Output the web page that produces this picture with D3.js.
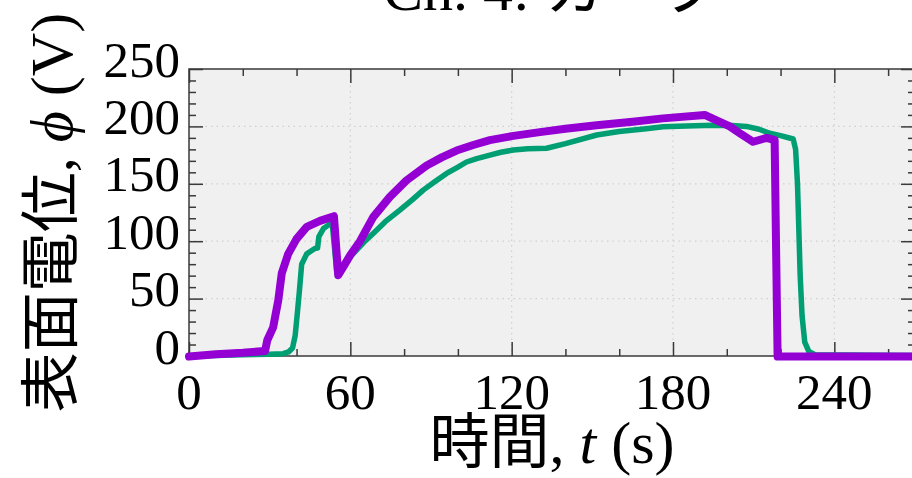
<!DOCTYPE html>
<html>
<head>
<meta charset="utf-8">
<script src="https://cdn.jsdelivr.net/npm/d3@7"></script>
<style>
  html, body { margin: 0; padding: 0; background: #fff; }
  svg { display: block; }
</style>
</head>
<body>
<svg id="chart" width="912" height="478"></svg>
<script>
// Ch. 4 surface potential traces
const titleText = 'Ch. 4: ';
const titleKana = 'カーブ';

const xMajorTicks = [0, 60, 120, 180, 240];
const xMinorTicks = [20, 40, 80, 100, 140, 160, 200, 220, 260];
const yMajorTicks = [0, 50, 100, 150, 200, 250];
const yMinorTicks = [10, 20, 30, 40, 60, 70, 80, 90, 110, 120, 130, 140, 160, 170, 180, 190, 210, 220, 230, 240];

const greenTime = [0, 10, 20, 30, 35, 37, 38.5, 39.5, 40.2, 41, 41.9, 43.8, 46.8, 47.8, 48.3, 50, 51.8, 53.2,
  55, 57, 61, 65, 68.5, 73, 78.4, 83, 87.1, 91.5, 95.8, 100, 103.2, 107, 111.9, 116, 120.6, 126, 133,
  140, 151.6, 160, 170, 176.3, 185, 195, 202, 207.3, 212, 216, 220, 224.7, 225.6, 226.3, 226.8, 227.3,
  228, 229, 230.5, 233, 270];
const greenValue = [0, 0.5, 1, 1.5, 2, 3.5, 7, 18, 35, 55, 80, 89, 93.6, 94, 104, 111, 114, 117,
  72, 78, 89, 99, 106.7, 117, 127, 136, 144.5, 152, 159, 164.5, 169, 172, 175, 177.5, 179.4, 180.5, 181,
  185, 192.5, 195.5, 198, 199.7, 200.3, 201, 200.8, 200, 197.5, 194, 192, 189, 180, 150, 110, 70,
  35, 12, 4, 1, 0.5];

const purpleTime = [0, 10, 20, 28.3, 29.1, 31.3, 33.2, 34.5, 36.9, 40, 43.8, 48.7, 53.9, 55.5,
  58, 60, 63.6, 68.5, 74.7, 80.9, 88.4, 94, 99.5, 106, 111.9, 120, 130.5, 140, 151.6, 165, 176.3,
  191.8, 196, 201.1, 205.5, 209.8, 214.8, 217.8, 218.3, 218.9, 222, 270];
const purpleValue = [-0.5, 1.5, 2.8, 4.4, 13.7, 25, 48.6, 72, 89, 102, 112.5, 117.7, 121.8, 70.4,
  80, 88, 100, 121, 138.6, 153, 166, 173, 179, 184, 188, 191.5, 195, 198, 201, 204, 207,
  210, 205.5, 200, 193, 186.6, 190, 188, 100, -0.5, -0.5, -0.5];

const svg = d3.select('#chart');
const W = 912, H = 478;
const plot = { left: 189, top: 69, right: 915, bottom: 356 };

const serif = '"Liberation Serif", "Times New Roman", "DejaVu Serif", serif';
const cjk = '"Noto Sans CJK JP", "Noto Sans CJK SC", sans-serif';

const x = d3.scaleLinear().domain([0, 270]).range([plot.left, plot.right]);
const y = d3.scaleLinear().domain([0, 250]).range([plot.bottom, plot.top]);

svg.append('rect').attr('width', W).attr('height', H).attr('fill', '#fff');

// plot background
svg.append('rect')
  .attr('x', plot.left).attr('y', plot.top)
  .attr('width', plot.right - plot.left).attr('height', plot.bottom - plot.top)
  .attr('fill', '#f0f0f0');

// dotted grid on major ticks
const grid = svg.append('g').attr('stroke', '#cfcfcf').attr('stroke-width', 1.2)
  .attr('stroke-dasharray', '1.5,4');
grid.selectAll('.gx').data(xMajorTicks.filter(d => d > 0)).enter().append('line')
  .attr('x1', d => x(d)).attr('x2', d => x(d))
  .attr('y1', plot.top).attr('y2', plot.bottom);
grid.selectAll('.gy').data(yMajorTicks.filter(d => d > 0 && d < 250)).enter().append('line')
  .attr('x1', plot.left).attr('x2', plot.right)
  .attr('y1', d => y(d)).attr('y2', d => y(d));

// inward ticks on all four sides
function ticks(axis, values, size, transform) {
  const g = svg.append('g').attr('transform', transform)
    .call(axis.tickValues(values).tickSize(-size).tickSizeOuter(0).tickFormat(''));
  g.select('.domain').remove();
  g.selectAll('.tick line').attr('stroke', '#3a3a3a').attr('stroke-width', 1.5);
  return g;
}
ticks(d3.axisBottom(x), xMajorTicks, 14, `translate(0,${plot.bottom})`);
ticks(d3.axisBottom(x), xMinorTicks, 7, `translate(0,${plot.bottom})`);
ticks(d3.axisTop(x), xMajorTicks, 14, `translate(0,${plot.top})`);
ticks(d3.axisTop(x), xMinorTicks, 7, `translate(0,${plot.top})`);
ticks(d3.axisLeft(y), yMajorTicks, 14, `translate(${plot.left},0)`);
ticks(d3.axisLeft(y), yMinorTicks, 7, `translate(${plot.left},0)`);
ticks(d3.axisRight(y), yMajorTicks, 14, `translate(${plot.right},0)`);
ticks(d3.axisRight(y), yMinorTicks, 7, `translate(${plot.right},0)`);

// frame
svg.append('rect')
  .attr('x', plot.left).attr('y', plot.top)
  .attr('width', plot.right - plot.left).attr('height', plot.bottom - plot.top)
  .attr('fill', 'none').attr('stroke', '#3a3a3a').attr('stroke-width', 1.5);

// tick labels
svg.append('g').selectAll('text').data(xMajorTicks).enter().append('text')
  .attr('x', d => x(d)).attr('y', plot.bottom + 53)
  .attr('text-anchor', 'middle')
  .attr('font-family', serif).attr('font-size', 51).attr('fill', '#000')
  .text(d => d);
svg.append('g').selectAll('text').data(yMajorTicks).enter().append('text')
  .attr('x', plot.left - 9).attr('y', d => y(d) + 7.5)
  .attr('text-anchor', 'end')
  .attr('font-family', serif).attr('font-size', 51).attr('fill', '#000')
  .text(d => d);

// lines
const line = (xs, ys) => d3.line()
  .x(i => x(xs[i]))
  .y(i => y(ys[i]))(d3.range(xs.length));

svg.append('path')
  .attr('d', line(greenTime, greenValue))
  .attr('fill', 'none').attr('stroke', '#009e73').attr('stroke-width', 5.5)
  .attr('stroke-linejoin', 'round').attr('stroke-linecap', 'round');

svg.append('path')
  .attr('d', line(purpleTime, purpleValue))
  .attr('fill', 'none').attr('stroke', '#9400d3').attr('stroke-width', 8)
  .attr('stroke-linejoin', 'round').attr('stroke-linecap', 'round');

// axis labels
const xl = svg.append('text')
  .attr('x', (plot.left + plot.right) / 2).attr('y', 463)
  .attr('text-anchor', 'middle').attr('font-size', 60).attr('fill', '#000');
xl.append('tspan').attr('font-family', cjk).text('時間');
xl.append('tspan').attr('font-family', serif).text(', ');
xl.append('tspan').attr('font-family', serif).attr('font-style', 'italic').text('t');
xl.append('tspan').attr('font-family', serif).text(' (s)');

const yl = svg.append('text')
  .attr('transform', `translate(72,${(plot.top + plot.bottom) / 2}) rotate(-90)`)
  .attr('text-anchor', 'middle').attr('font-size', 60).attr('fill', '#000');
yl.append('tspan').attr('font-family', cjk).text('表面電位');
yl.append('tspan').attr('font-family', serif).text(', ');
yl.append('tspan').attr('font-family', serif).attr('font-style', 'italic').text('ϕ');
yl.append('tspan').attr('font-family', serif).text(' (V)');

// title (cut off by the top edge in the reference)
const tl = svg.append('text')
  .attr('x', (plot.left + plot.right) / 2).attr('y', 10)
  .attr('text-anchor', 'middle').attr('font-size', 60).attr('fill', '#000');
tl.append('tspan').attr('font-family', serif).text(titleText);
tl.append('tspan').attr('font-family', cjk).text(titleKana);
</script>
</body>
</html>
